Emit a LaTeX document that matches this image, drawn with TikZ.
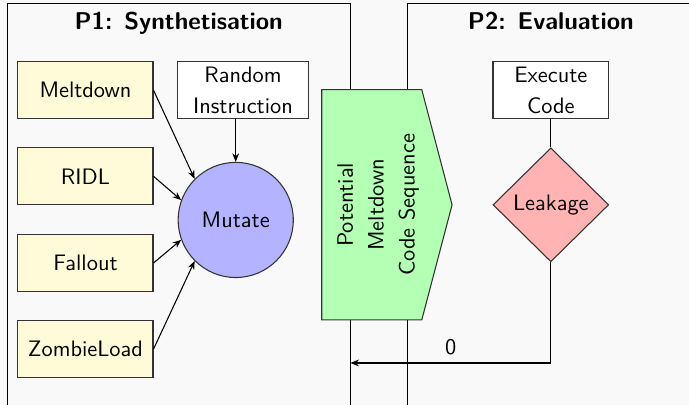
\documentclass[tikz,border=0pt]{standalone}
\usepackage{tikz}
\usetikzlibrary{arrows.meta,positioning,shapes.geometric}
\definecolor{attackyellow}{RGB}{255,250,215}
\definecolor{mutblue}{RGB}{179,179,255}
\definecolor{seqgreen}{RGB}{179,255,179}
\definecolor{leakred}{RGB}{255,179,179}
\newcommand{\txt}{\sffamily\fontsize{10.5}{14.5}\selectfont}

\begin{document}
\begin{tikzpicture}[
      arr/.style={-{Stealth[length=4pt,width=3.2pt]}, line width=0.5pt},
      lin/.style={line width=0.5pt},
      panel/.style={draw=black, line width=0.6pt, fill=gray!5},
      phase/.style={font=\sffamily\bfseries\fontsize{11.4}{14}\selectfont, anchor=base},
      attack/.style={rectangle, fill=attackyellow, draw=black!80, line width=0.5pt,
                     minimum width=2.23cm, minimum height=0.94cm, font=\txt},
      plainbox/.style={rectangle, fill=white, draw=black!80, line width=0.5pt,
                       minimum height=0.94cm, inner sep=1pt, align=center, font=\txt},
    ]
    \useasboundingbox (0,0) rectangle (11.37,6.68);
    \clip (0,0) rectangle (11.37,6.68);
    \fill[gray!5] (0,0) rectangle (11.37,6.68);

    % the two phases
    \draw[panel] (0.12,-0.5) rectangle (5.783,6.62);
    \draw[panel] (6.73,-0.5) rectangle (12.0,6.62);
    \node[phase] (t1) at (2.95,6.20) {P1: Synthetisation};
    \node[phase] (t2) at (9.09,6.20) {P2: Evaluation};

    % P1
    \node[attack] (melt)   at (1.41,5.19) {Meltdown};
    \node[attack] (ridl)   at (1.41,3.77) {RIDL};
    \node[attack] (fall)   at (1.41,2.34) {Fallout};
    \node[attack] (zombie) at (1.41,0.92) {ZombieLoad};
    \node[plainbox, minimum width=2.15cm] (rand) at (4.01,5.19) {Random\\Instruction};
    \node[circle, fill=mutblue, draw=black!80, line width=0.5pt, minimum size=1.9cm,
          font=\txt] (mutate) at (3.89,3.05) {Mutate};

    \draw[arr] (melt.east)   -- (mutate.135);
    \draw[arr] (ridl.east)   -- (mutate.160);
    \draw[arr] (fall.east)   -- (mutate.200);
    \draw[arr] (zombie.east) -- (mutate.225);
    \draw[arr] (rand.south -| mutate.north) -- (mutate.north);

    % code sequence handed over to P2
    \draw[fill=seqgreen, draw=black!80, line width=0.5pt]
      (5.31,5.20) -- (6.96,5.20) -- (7.46,3.30) -- (6.96,1.40) -- (5.31,1.40) -- cycle;
    \node[rotate=90, align=center, font=\txt]
      (seq) at (6.24,3.30) {Potential\\Meltdown\\Code Sequence};

    % P2
    \node[plainbox, minimum width=1.91cm] (exec) at (9.09,5.19) {Execute\\Code};
    \node[diamond, fill=leakred, draw=black!80, line width=0.5pt, inner sep=1pt,
          minimum width=1.91cm, minimum height=1.88cm, font=\txt]
      (leak) at (9.09,3.30) {Leakage};
    \coordinate (back) at (5.783,0.69);

    \draw[lin] (exec.south) -- (leak.north);
    \draw[arr] (leak.south) |- node[pos=0.75, above, font=\txt] {0} (back);
  \end{tikzpicture}
\end{document}
